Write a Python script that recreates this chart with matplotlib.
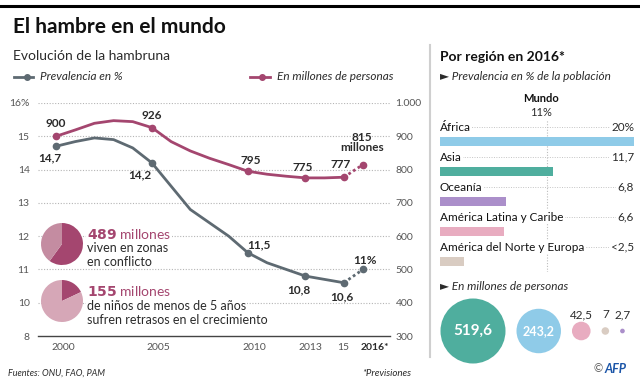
import numpy as np
import matplotlib.pyplot as plt
import matplotlib.transforms as mtransforms
from matplotlib.lines import Line2D
from matplotlib.patches import Circle

plt.rcParams['font.family'] = ['Lato', 'DejaVu Sans']

# ---- data ----
years = [2000, 2001, 2002, 2003, 2004, 2005, 2006, 2007, 2008,
         2009, 2010, 2011, 2012, 2013, 2014, 2015, 2016]
prevalence = [14.7, 14.84, 14.95, 14.9, 14.65, 14.2, 13.5, 12.8, 12.4,
              12.0, 11.5, 11.2, 11.0, 10.8, 10.7, 10.6, 11.0]
millions = [900, 919, 939, 947, 944, 926, 884, 856, 834,
            815, 795, 786, 780, 775, 775, 777, 815]
marked_years = [2000, 2005, 2010, 2013, 2015]
tick_years = [2000, 2005, 2010, 2013, 2015, 2016]
tick_labels = ['2000', '2005', '2010', '2013', '15', '2016*']

regions = ['África', 'Asia', 'Oceanía', 'América Latina y Caribe',
           'América del Norte y Europa']
region_pct = [20, 11.7, 6.8, 6.6, 2.5]
region_pct_labels = ['20%', '11,7', '6,8', '6,6', '<2,5']
world_pct = 11

bubble_vals = [519.6, 243.2, 42.5, 7, 2.7]
bubble_labels = ['519,6', '243,2', '42,5', '7', '2,7']

pie_shares = [0.6, 0.18]   # 489 M in conflict zones, 155 M stunted children

# ---- style ----
GRAY = '#5e6a72'
PINK = '#a4466f'
PINK_L1 = '#c48ca1'
PINK_L2 = '#d6a7b7'
TXT = '#2b2b2b'
TICK = '#555555'
region_colors = ['#8fcbe8', '#4fae9e', '#ab8fca', '#e8acc0', '#d9ccc2']
bubble_colors = ['#4fae9e', '#8fcbe8', '#e8acc0', '#d9ccc2', '#ab8fca']

W, H = 640, 380
fig = plt.figure(figsize=(6.4, 3.8), dpi=100)


def rect(x0, y0, x1, y1):
    # pixel box (top-left origin) -> figure fraction
    return [x0 / W, 1 - y1 / H, (x1 - x0) / W, (y1 - y0) / H]


def ftext(x, y, s, **kw):
    fig.text(x / W, 1 - y / H, s, **kw)


# header
fig.add_artist(Line2D([0, 1], [1 - 6 / H] * 2, color='black', lw=2.2))
ftext(13, 27, 'El hambre en el mundo', fontsize=15, fontweight='bold',
      va='center', color='#111')
ftext(13, 56, 'Evolución de la hambruna', fontsize=10, va='center', color=TXT)

# legend
fig.add_artist(Line2D([14 / W, 33 / W], [1 - 77 / H] * 2, color=GRAY, lw=2))
fig.add_artist(Line2D([27 / W], [1 - 77 / H], color=GRAY, marker='o', ms=4))
ftext(40, 77, 'Prevalencia en %', fontsize=8.5, style='italic',
      va='center', color=TXT)
fig.add_artist(Line2D([250 / W, 270 / W], [1 - 77 / H] * 2, color=PINK, lw=2))
fig.add_artist(Line2D([262 / W], [1 - 77 / H], color=PINK, marker='o', ms=4))
ftext(277, 77, 'En millones de personas', fontsize=8.5, style='italic',
      va='center', color=TXT)

# ---- left line chart ----
ax = fig.add_axes(rect(38, 103, 390, 336))
ax2 = ax.twinx()
px_per_year = (363 - 56) / 16
ax.set_xlim(2000 - 18 / px_per_year, 2000 + 334 / px_per_year)
ax.set_ylim(9, 16)
ax2.set_ylim(300, 1000)

for s in ['top', 'right', 'left']:
    ax.spines[s].set_visible(False)
    ax2.spines[s].set_visible(False)
ax2.spines['bottom'].set_visible(False)
ax.spines['bottom'].set_color('#444')
ax.spines['bottom'].set_linewidth(1)

ax.set_yticks(range(9, 17))
ax.set_yticklabels(['8', '10', '11', '12', '13', '14', '15', '16%'])
ax2.set_yticks(range(300, 1001, 100))
ax2.set_yticklabels(['300', '400', '500', '600', '700', '800', '900', '1.000'])
ax.tick_params(axis='y', length=0, pad=6, labelsize=7.5, labelcolor=TICK)
ax2.tick_params(axis='y', length=0, pad=4, labelsize=7.5, labelcolor=TICK)
ax.set_xticks(tick_years)
ax.set_xticklabels(tick_labels)
ax.tick_params(axis='x', length=0, pad=5, labelsize=7.5, labelcolor=TICK)
# nudge the year labels the way the original sets them
for lbl, dx in zip(ax.get_xticklabels(), [7, 6, 6, 5, -1, 12]):
    lbl.set_transform(lbl.get_transform() +
                      mtransforms.ScaledTranslation(dx / 100, 0, fig.dpi_scale_trans))
ax.get_xticklabels()[-1].set_fontweight('bold')
ax.get_xticklabels()[-1].set_color(TXT)
for y in range(10, 17):
    ax.axhline(y, color='#b5b5b5', lw=0.8, ls=(0, (1, 1.5)), zorder=0)

yrs = np.array(years)
prev = np.array(prevalence)
mil = np.array(millions)
solid = yrs <= 2015
proj = yrs >= 2015
mk = np.isin(yrs, marked_years)

ax.plot(yrs[solid], prev[solid], color=GRAY, lw=2, zorder=3)
ax.plot(yrs[proj], prev[proj], color=GRAY, lw=2, ls=(0, (1, 1)), zorder=3)
ax.plot(yrs[mk], prev[mk], 'o', color=GRAY, ms=4.5, zorder=4)
ax.plot([2016], [prev[-1]], 'o', color=GRAY, ms=4.5, zorder=4)

ax2.plot(yrs[solid], mil[solid], color=PINK, lw=2, zorder=3)
ax2.plot(yrs[proj], mil[proj], color=PINK, lw=2, ls=(0, (1, 1)), zorder=3)
ax2.plot(yrs[mk], mil[mk], 'o', color=PINK, ms=4.5, zorder=4)
ax2.plot([2016], [mil[-1]], 'o', color=PINK, ms=4.5, zorder=4)


def lab(a, x, y, s, dx, dy, bold=True, **kw):
    a.annotate(s, (x, y), xytext=(dx, dy), textcoords='offset pixels',
               ha='center', va='center', fontsize=8.5, color=TXT,
               fontweight='bold' if bold else 'normal', **kw)


def fmt(v):
    return f'{v:g}'.replace('.', ',')


i = years.index
lab(ax2, 2000, millions[i(2000)], fmt(millions[i(2000)]), 0, 13)
lab(ax2, 2005, millions[i(2005)], fmt(millions[i(2005)]), 0, 12)
lab(ax2, 2010, millions[i(2010)], fmt(millions[i(2010)]), 3, 11)
lab(ax2, 2013, millions[i(2013)], fmt(millions[i(2013)]), -3, 10)
lab(ax2, 2015, millions[i(2015)], fmt(millions[i(2015)]), -3, 13)
lab(ax2, 2016, millions[i(2016)], fmt(millions[i(2016)]) + '\nmillones',
    -1, 22, linespacing=0.95)
lab(ax, 2000, prevalence[i(2000)], fmt(prevalence[i(2000)]), -6, -12)
lab(ax, 2005, prevalence[i(2005)], fmt(prevalence[i(2005)]), -12, -12)
lab(ax, 2010, prevalence[i(2010)], fmt(prevalence[i(2010)]), 11, 8)
lab(ax, 2013, prevalence[i(2013)], fmt(prevalence[i(2013)]), -7, -14)
lab(ax, 2015, prevalence[i(2015)], fmt(prevalence[i(2015)]), -2, -14)
lab(ax, 2016, prevalence[i(2016)], fmt(prevalence[i(2016)]) + '%', 2, 9)

# pies with text
for k, (share, light, cy) in enumerate(zip(pie_shares, [PINK_L1, PINK_L2], [244, 301])):
    pax = fig.add_axes(rect(41, cy - 21, 83, cy + 21))
    pax.pie([share, 1 - share], colors=[PINK, light], startangle=90,
            counterclock=False, radius=1.1, wedgeprops=dict(linewidth=0))
    pax.set_xlim(-1.1, 1.1)
    pax.set_ylim(-1.1, 1.1)
    pax.set_aspect('equal')
    pax.set_zorder(5)

wb = dict(facecolor='white', edgecolor='none', pad=0.5)
ftext(87, 234, r'$\bf{489}$ millones', fontsize=10, color=PINK, va='center',
      bbox=wb, zorder=6)
ftext(87, 248.5, 'viven en zonas', fontsize=9, color=TXT, va='center', zorder=6)
ftext(87, 262, 'en conflicto', fontsize=9, color=TXT, va='center', zorder=6)
ftext(87, 291, r'$\bf{155}$ millones', fontsize=10, color=PINK, va='center',
      bbox=wb, zorder=6)
ftext(87, 306, 'de niños de menos de 5 años', fontsize=9, color=TXT,
      va='center', bbox=wb, zorder=6)
ftext(87, 320, 'sufren retrasos en el crecimiento', fontsize=9, color=TXT,
      va='center', zorder=6)

# footer
ftext(8, 373, 'Fuentes: ONU, FAO, PAM', fontsize=6.5, style='italic',
      va='center', color=TXT)
ftext(411, 373, '*Previsiones', fontsize=7, style='italic', va='center',
      ha='right', color=TXT)

# divider
fig.add_artist(Line2D([430 / W] * 2, [1 - 45 / H, 1 - 357 / H],
                      color='#cfcfcf', lw=1.5))

# ---- right panel: bars ----
ftext(440, 57, 'Por región en 2016*', fontsize=10, fontweight='bold',
      va='center', color='#111')
ftext(440, 76, '► Prevalencia en % de la población', fontsize=8.5,
      style='italic', va='center', color=TXT)

bx = fig.add_axes(rect(440, 120, 634, 272))
bx.set_xlim(0, 20)
top = (120 - 141.5) / 30
bot = (272 - 141.5) / 30
bx.set_ylim(bot, top)
bx.axis('off')
ypos = np.arange(len(regions))
bx.barh(ypos, region_pct, height=0.3, color=region_colors, zorder=2)
bx.axvline(world_pct, color='#bdbdbd', lw=0.8, ls=(0, (1, 1.5)), zorder=1)
for y, name, v in zip(ypos, regions, region_pct_labels):
    ly = y - 0.48
    bx.plot([0, 20], [ly, ly], color='#c4c4c4', lw=0.7, ls=(0, (1, 1.5)),
            zorder=1, clip_on=False)
    bx.text(0, ly, name, fontsize=8.5, va='center', ha='left', color='#111',
            bbox=dict(facecolor='white', edgecolor='none', pad=1), zorder=3,
            clip_on=False)
    bx.text(20, ly, v, fontsize=8.5, va='center', ha='right', color=TXT,
            bbox=dict(facecolor='white', edgecolor='none', pad=1), zorder=3,
            clip_on=False)
bx.text(world_pct - 0.6, (98 - 141.5) / 30, 'Mundo', fontsize=8, fontweight='bold',
        ha='center', va='center', color='#111', clip_on=False)
bx.text(world_pct - 0.6, (113 - 141.5) / 30, f'{world_pct}%', fontsize=8,
        ha='center', va='center', color=TXT, clip_on=False)

# ---- right panel: bubbles ----
ftext(440, 287, '► En millones de personas', fontsize=8.5, style='italic',
      va='center', color=TXT)
cx = fig.add_axes(rect(430, 290, 640, 368))
cx.set_xlim(430, 640)
cx.set_ylim(368, 290)
cx.axis('off')
radii = 32.5 * np.sqrt(np.array(bubble_vals) / max(bubble_vals))
gap = 11
centers = [473.0]
for r0, r1 in zip(radii[:-1], radii[1:]):
    centers.append(centers[-1] + r0 + gap + r1)
cy = 331
for x, r, c, s in zip(centers, radii, bubble_colors, bubble_labels):
    cx.add_patch(Circle((x, cy), r, color=c, lw=0))
    if r > 15:
        cx.text(x, cy, s, ha='center', va='center', color='white',
                fontweight='bold', fontsize=11 if r > 25 else 9)
    else:
        cx.text(x, 315, s, ha='center', va='center', color=TXT, fontsize=8.5)

# AFP mark
ftext(598, 369, '©', fontsize=8, va='center', ha='center', color='#555')
ftext(604, 369, 'AFP', fontsize=9, va='center', fontweight='bold',
      style='italic', color='#1b55a8')

fig.savefig('out.png', dpi=100)
